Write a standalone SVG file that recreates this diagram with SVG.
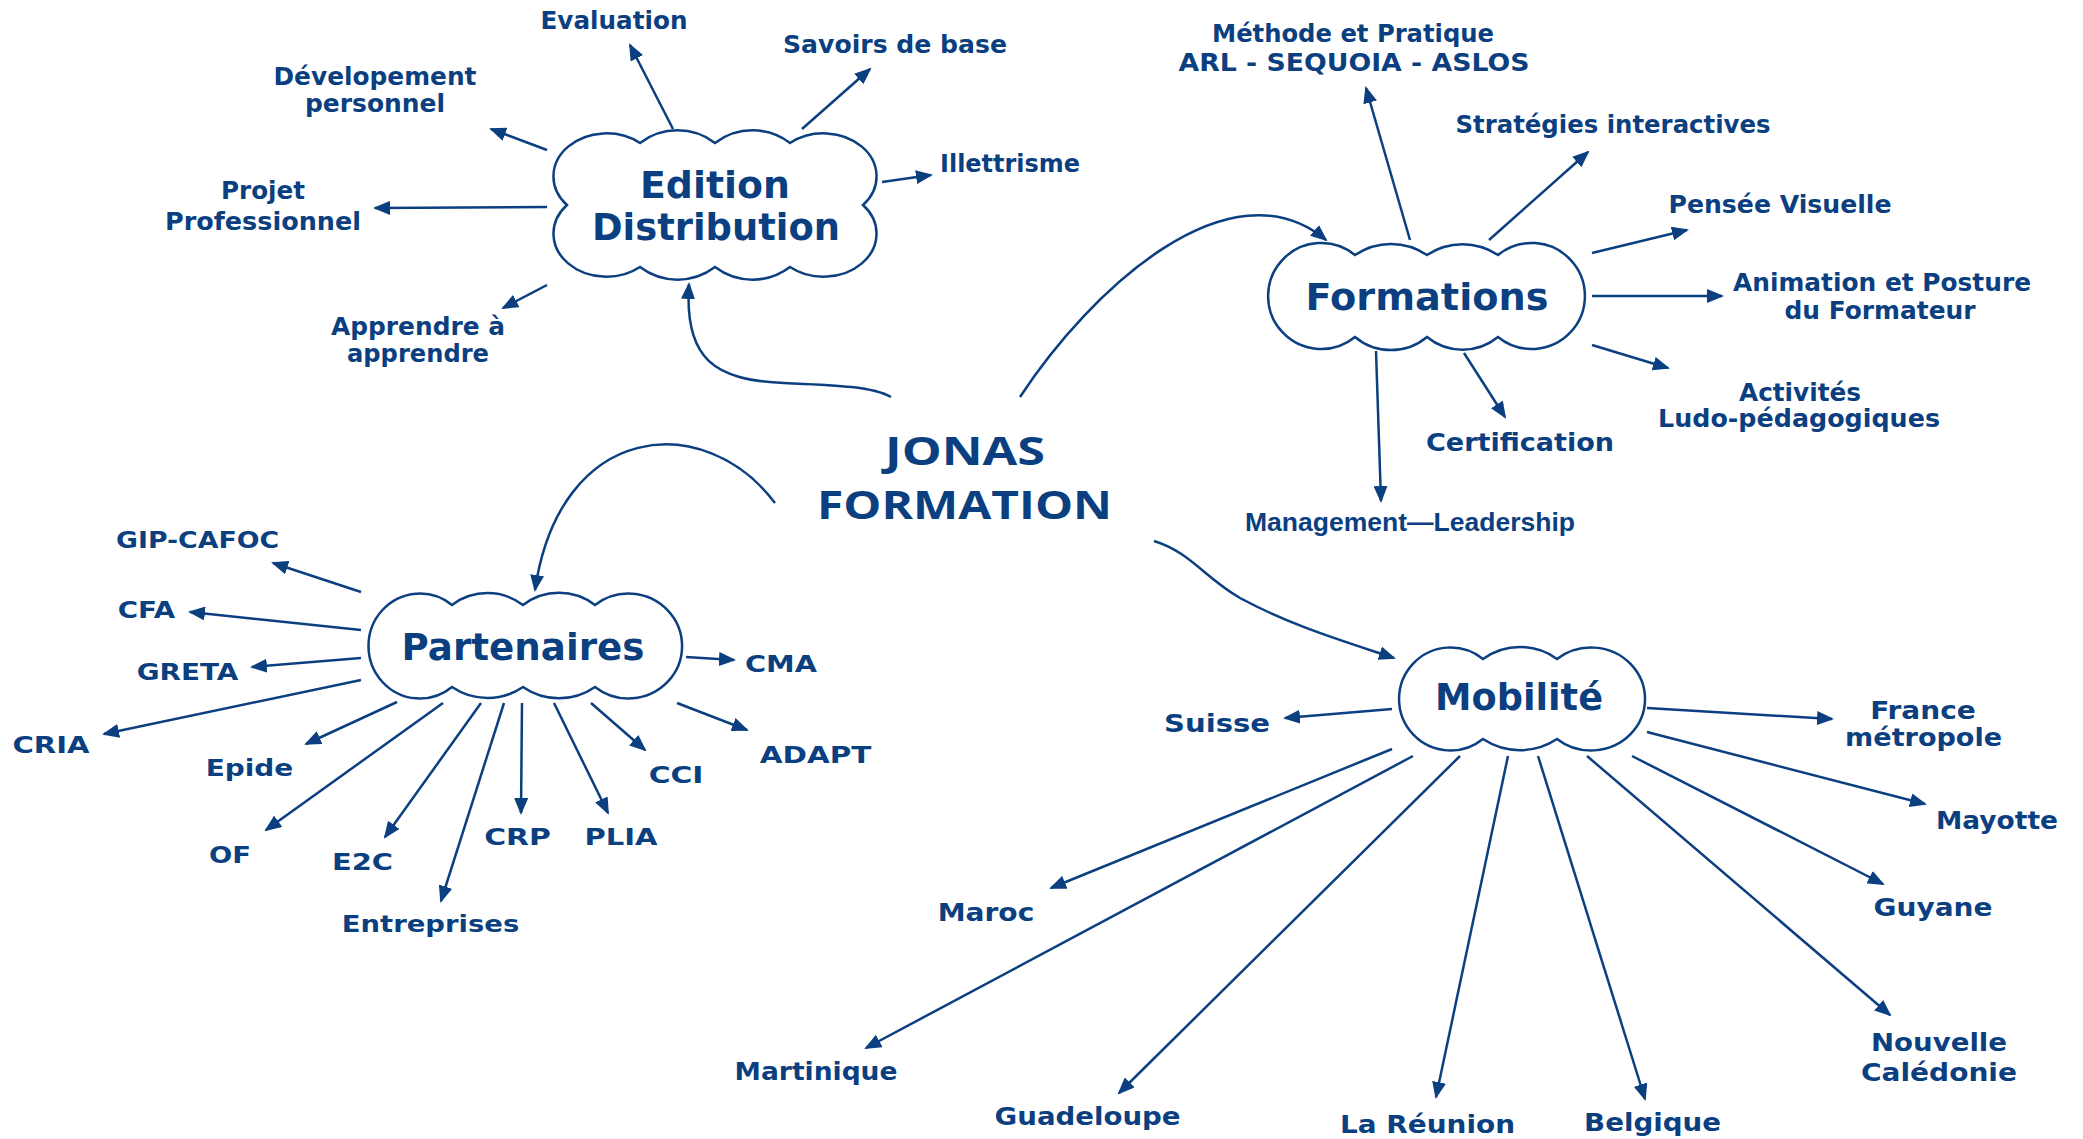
<svg xmlns="http://www.w3.org/2000/svg" width="2083" height="1139" viewBox="0 0 2083 1139">
<defs>
<style>
.cl{fill:#fff;stroke:#0b3f80;stroke-width:2.5}
.ln{fill:none;stroke:#0b3f80;stroke-width:2.5;marker-end:url(#ah)}
.t{font-family:"DejaVu Sans",Verdana,sans-serif;font-weight:bold;fill:#0b3f80;text-anchor:middle}
.ti{font-size:38px}
.le{font-size:24.5px}
.lp{font-size:23.5px}
.lm{font-size:24px}
.ar{font-family:"Liberation Sans",Arial,sans-serif;font-weight:bold;fill:#0b3f80;text-anchor:middle;font-size:25px}
.jn{font-family:"Open Sans","DejaVu Sans",sans-serif;font-weight:bold;fill:#0b3f80;text-anchor:middle;font-size:39px}
</style>
<marker id="ah" markerUnits="userSpaceOnUse" markerWidth="17" markerHeight="14" viewBox="0 0 17 14" refX="15" refY="7" orient="auto">
<path d="M0,0 L17,7 L0,14 Z" fill="#0b3f80"/>
</marker>
</defs>
<rect width="2083" height="1139" fill="#fff"/>

<g id="connectors">
<path class="ln" d="M891,397 C872,386 830,385 784,383 C715,380 684,360 689,284"/>
<path class="ln" d="M1020,397 C1090,290 1230,160 1326,240"/>
<path class="ln" d="M775,503 C705,410 560,420 535,590"/>
<path class="ln" d="M1154,541 C1190,552 1205,578 1240,598 C1290,625 1340,640 1394,658"/>
<line class="ln" x1="673" y1="129" x2="630" y2="45"/>
<line class="ln" x1="802" y1="129" x2="870" y2="69"/>
<line class="ln" x1="547" y1="150" x2="491" y2="129"/>
<line class="ln" x1="882" y1="182" x2="931" y2="175"/>
<line class="ln" x1="547" y1="207" x2="375" y2="208"/>
<line class="ln" x1="547" y1="285" x2="503" y2="308"/>
<line class="ln" x1="1410" y1="240" x2="1366" y2="88"/>
<line class="ln" x1="1489" y1="240" x2="1588" y2="152"/>
<line class="ln" x1="1592" y1="253" x2="1687" y2="230"/>
<line class="ln" x1="1592" y1="296" x2="1722" y2="296"/>
<line class="ln" x1="1592" y1="345" x2="1668" y2="368"/>
<line class="ln" x1="1464" y1="353" x2="1505" y2="417"/>
<line class="ln" x1="1376" y1="351" x2="1381" y2="501"/>
<line class="ln" x1="361" y1="592" x2="273" y2="563"/>
<line class="ln" x1="361" y1="630" x2="190" y2="612"/>
<line class="ln" x1="361" y1="658" x2="252" y2="667"/>
<line class="ln" x1="361" y1="680" x2="104" y2="734"/>
<line class="ln" x1="397" y1="702" x2="306" y2="744"/>
<line class="ln" x1="443" y1="703" x2="266" y2="830"/>
<line class="ln" x1="481" y1="703" x2="385" y2="837"/>
<line class="ln" x1="504" y1="703" x2="441" y2="901"/>
<line class="ln" x1="522" y1="703" x2="521" y2="813"/>
<line class="ln" x1="554" y1="703" x2="608" y2="813"/>
<line class="ln" x1="591" y1="703" x2="645" y2="750"/>
<line class="ln" x1="677" y1="703" x2="747" y2="730"/>
<line class="ln" x1="686" y1="657" x2="734" y2="660"/>
<line class="ln" x1="1647" y1="708" x2="1832" y2="719"/>
<line class="ln" x1="1647" y1="732" x2="1925" y2="804"/>
<line class="ln" x1="1632" y1="756" x2="1883" y2="884"/>
<line class="ln" x1="1587" y1="756" x2="1890" y2="1015"/>
<line class="ln" x1="1538" y1="756" x2="1645" y2="1099"/>
<line class="ln" x1="1508" y1="756" x2="1436" y2="1097"/>
<line class="ln" x1="1460" y1="756" x2="1119" y2="1093"/>
<line class="ln" x1="1413" y1="756" x2="866" y2="1048"/>
<line class="ln" x1="1392" y1="749" x2="1051" y2="888"/>
<line class="ln" x1="1392" y1="709" x2="1285" y2="718"/>
</g>

<g id="jonas-formation">
<text class="jn" x="965" y="465" textLength="160" lengthAdjust="spacingAndGlyphs">JONAS</text>
<text class="jn" x="964.5" y="518.5" textLength="295" lengthAdjust="spacingAndGlyphs">FORMATION</text>
</g>

<g id="edition-distribution">
<path class="cl" d="M640,143 A62,62 0 0 1 715,143 A62,62 0 0 1 790,143 A53,43 0 0 1 863,205 A53,43 0 0 1 790,267 A62,62 0 0 1 715,267 A62,62 0 0 1 640,267 A53,43 0 0 1 567,205 A53,43 0 0 1 640,143 Z"/>
<text class="t ti" x="715" y="198" textLength="150" lengthAdjust="spacingAndGlyphs">Edition</text>
<text class="t ti" x="716" y="240" textLength="248" lengthAdjust="spacingAndGlyphs">Distribution</text>
</g>

<g id="formations">
<path class="cl" d="M1355,255 A64,64 0 0 1 1427,255 A64,64 0 0 1 1498,255 A53.2,53 0 1 1 1498,337 A56,56 0 0 1 1427,337 A56,56 0 0 1 1355,337 A53.2,53 0 1 1 1355,255 Z"/>
<text class="t ti" x="1427" y="310" textLength="243" lengthAdjust="spacingAndGlyphs">Formations</text>
</g>

<g id="partenaires">
<path class="cl" d="M452,605 A59,59 0 0 1 523,605 A59,59 0 0 1 595,605 A53.6,52.5 0 1 1 595,687 A63,63 0 0 1 523,687 A63,63 0 0 1 452,687 A51.4,52.5 0 1 1 452,605 Z"/>
<text class="t ti" x="523" y="660" textLength="243" lengthAdjust="spacingAndGlyphs">Partenaires</text>
</g>

<g id="mobilite">
<path class="cl" d="M1483,659 A63,63 0 0 1 1557,659 A54,51.5 0 1 1 1557,739 A67,67 0 0 1 1483,739 A51.5,51.5 0 1 1 1483,659 Z"/>
<text class="t ti" x="1519" y="710" textLength="168" lengthAdjust="spacingAndGlyphs">Mobilité</text>
</g>

<g id="evaluation"><text class="t le" x="614" y="28.5" textLength="147" lengthAdjust="spacingAndGlyphs">Evaluation</text></g>
<g id="savoirs-de-base"><text class="t le" x="895" y="53" textLength="224" lengthAdjust="spacingAndGlyphs">Savoirs de base</text></g>
<g id="developpement-personnel"><text class="t le" x="375" y="85" textLength="203" lengthAdjust="spacingAndGlyphs">Dévelopement</text><text class="t le" x="375" y="112" textLength="140" lengthAdjust="spacingAndGlyphs">personnel</text></g>
<g id="illettrisme"><text class="t le" x="1010" y="172" textLength="140" lengthAdjust="spacingAndGlyphs">Illettrisme</text></g>
<g id="projet-professionnel"><text class="t le" x="263" y="199" textLength="84" lengthAdjust="spacingAndGlyphs">Projet</text><text class="t le" x="263" y="230" textLength="196" lengthAdjust="spacingAndGlyphs">Professionnel</text></g>
<g id="apprendre"><text class="t le" x="418" y="335" textLength="174" lengthAdjust="spacingAndGlyphs">Apprendre à</text><text class="t le" x="418" y="362" textLength="142" lengthAdjust="spacingAndGlyphs">apprendre</text></g>

<g id="methode"><text class="t le" x="1353" y="42" textLength="282" lengthAdjust="spacingAndGlyphs">Méthode et Pratique</text><text class="t le" x="1354" y="71" textLength="351" lengthAdjust="spacingAndGlyphs">ARL - SEQUOIA - ASLOS</text></g>
<g id="strategies"><text class="t le" x="1613" y="133" textLength="315" lengthAdjust="spacingAndGlyphs">Stratégies interactives</text></g>
<g id="pensee-visuelle"><text class="t le" x="1780" y="213" textLength="223" lengthAdjust="spacingAndGlyphs">Pensée Visuelle</text></g>
<g id="animation"><text class="t le" x="1882" y="291" textLength="298" lengthAdjust="spacingAndGlyphs">Animation et Posture</text><text class="t le" x="1880" y="318.5" textLength="191" lengthAdjust="spacingAndGlyphs">du Formateur</text></g>
<g id="activites"><text class="t le" x="1800" y="400.5" textLength="122" lengthAdjust="spacingAndGlyphs">Activités</text><text class="t le" x="1799" y="427" textLength="282" lengthAdjust="spacingAndGlyphs">Ludo-pédagogiques</text></g>
<g id="certification"><text class="t le" x="1520" y="451" textLength="188" lengthAdjust="spacingAndGlyphs">Certification</text></g>
<g id="management"><text class="ar" x="1410" y="531" textLength="330" lengthAdjust="spacingAndGlyphs">Management—Leadership</text></g>

<g id="gip-cafoc"><text class="t lp" x="197.5" y="548" textLength="163" lengthAdjust="spacingAndGlyphs">GIP-CAFOC</text></g>
<g id="cfa"><text class="t lp" x="146.5" y="618" textLength="57.5" lengthAdjust="spacingAndGlyphs">CFA</text></g>
<g id="greta"><text class="t lp" x="187.5" y="680" textLength="101.7" lengthAdjust="spacingAndGlyphs">GRETA</text></g>
<g id="cria"><text class="t lp" x="51" y="753" textLength="77" lengthAdjust="spacingAndGlyphs">CRIA</text></g>
<g id="epide"><text class="t lp" x="249.5" y="776" textLength="87.7" lengthAdjust="spacingAndGlyphs">Epide</text></g>
<g id="of"><text class="t lp" x="230" y="863" textLength="42" lengthAdjust="spacingAndGlyphs">OF</text></g>
<g id="e2c"><text class="t lp" x="362.5" y="870" textLength="61" lengthAdjust="spacingAndGlyphs">E2C</text></g>
<g id="entreprises"><text class="t lp" x="430.5" y="931.5" textLength="177.5" lengthAdjust="spacingAndGlyphs">Entreprises</text></g>
<g id="crp"><text class="t lp" x="517.5" y="845" textLength="66.6" lengthAdjust="spacingAndGlyphs">CRP</text></g>
<g id="plia"><text class="t lp" x="621" y="845" textLength="73" lengthAdjust="spacingAndGlyphs">PLIA</text></g>
<g id="cci"><text class="t lp" x="676" y="783" textLength="54.7" lengthAdjust="spacingAndGlyphs">CCI</text></g>
<g id="adapt"><text class="t lp" x="815.5" y="763" textLength="111.5" lengthAdjust="spacingAndGlyphs">ADAPT</text></g>
<g id="cma"><text class="t lp" x="781" y="671.5" textLength="72" lengthAdjust="spacingAndGlyphs">CMA</text></g>

<g id="suisse"><text class="t lm" x="1217" y="732" textLength="106" lengthAdjust="spacingAndGlyphs">Suisse</text></g>
<g id="france-metropole"><text class="t lm" x="1923" y="718.5" textLength="105.6" lengthAdjust="spacingAndGlyphs">France</text><text class="t lm" x="1923.6" y="746" textLength="157" lengthAdjust="spacingAndGlyphs">métropole</text></g>
<g id="mayotte"><text class="t lm" x="1997" y="828.5" textLength="122" lengthAdjust="spacingAndGlyphs">Mayotte</text></g>
<g id="maroc"><text class="t lm" x="986" y="921" textLength="96.6" lengthAdjust="spacingAndGlyphs">Maroc</text></g>
<g id="guyane"><text class="t lm" x="1933" y="916" textLength="119" lengthAdjust="spacingAndGlyphs">Guyane</text></g>
<g id="nouvelle-caledonie"><text class="t lm" x="1939" y="1051" textLength="136" lengthAdjust="spacingAndGlyphs">Nouvelle</text><text class="t lm" x="1939" y="1081" textLength="156" lengthAdjust="spacingAndGlyphs">Calédonie</text></g>
<g id="martinique"><text class="t lm" x="816" y="1080" textLength="163" lengthAdjust="spacingAndGlyphs">Martinique</text></g>
<g id="guadeloupe"><text class="t lm" x="1087.6" y="1125" textLength="186" lengthAdjust="spacingAndGlyphs">Guadeloupe</text></g>
<g id="la-reunion"><text class="t lm" x="1427.5" y="1132.5" textLength="175" lengthAdjust="spacingAndGlyphs">La Réunion</text></g>
<g id="belgique"><text class="t lm" x="1652.6" y="1131" textLength="137" lengthAdjust="spacingAndGlyphs">Belgique</text></g>
</svg>
